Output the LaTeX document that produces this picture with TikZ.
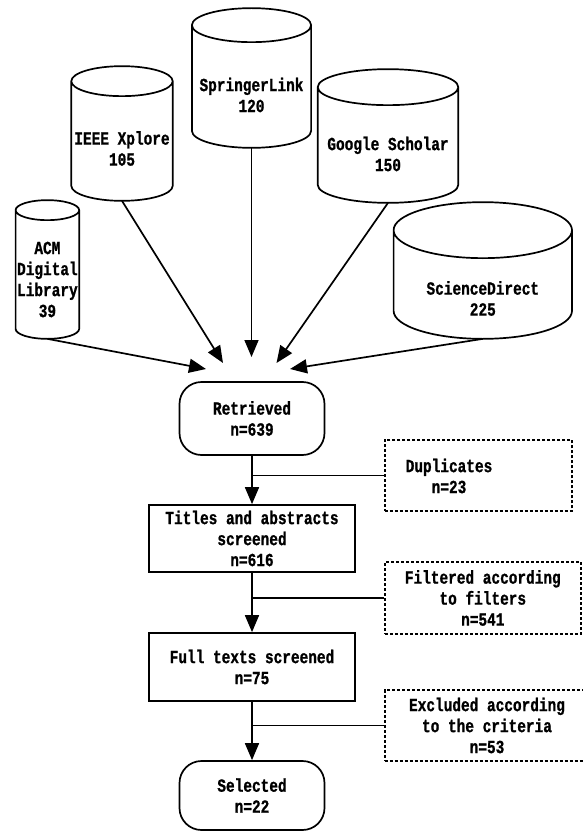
\documentclass[tikz,border=0pt]{standalone}
\usepackage{fontspec}
\newfontfamily\flowfont[FakeStretch=0.78, BoldFeatures={FakeBold=1}]{Liberation Mono}
\usetikzlibrary{arrows.meta, positioning}
\tikzset{
  >={Triangle[length=17pt,width=14pt]},
  every node/.style={font=\fontsize{18.5}{21}\selectfont\flowfont\bfseries},
  dbase/.style={rectangle, inner sep=0pt, align=center},
  flowend/.style={draw, rounded corners=22pt, minimum width=145pt, align=center},
  stepbox/.style={draw, minimum width=206pt, align=center},
  sidebox/.style={draw, dash pattern=on 3pt off 2pt, align=center},
}
% cylinder outline round a dbase node: name, x radius, y radius
\newcommand\dbshape[3]{%
  \draw ([xshift=-#2, yshift=#3]#1.north)
    arc[start angle=180, end angle=540, x radius=#2, y radius=#3]
    -- ([xshift=-#2, yshift=#3]#1.south)
    arc[start angle=180, end angle=360, x radius=#2, y radius=#3]
    -- ([xshift=#2, yshift=#3]#1.north);}

\begin{document}
\begin{tikzpicture}[x=1pt, y=-1pt, line width=1.7pt]
  \useasboundingbox (0,0) rectangle (583,832);
  \clip (0,0) rectangle (583,832);

  % sources
  \node[dbase, minimum height=117pt] (acm)  at (47.4,279.5) {ACM\\Digital\\Library\\39};
  \node[dbase, minimum height=103pt] (ieee) at (122,148.5)  {IEEE Xplore\\105};
  \node[dbase, minimum height=104pt] (sl)   at (251.5,95)   {SpringerLink\\120};
  \node[dbase, minimum height=96pt]  (gs)   at (388,154)    {Google Scholar\\150};
  \node[dbase, minimum height=79pt]  (sd)   at (482.8,298.5){ScienceDirect\\225};
  \dbshape{acm}{31.8pt}{10pt}
  \dbshape{ieee}{50.7pt}{15pt}
  \dbshape{sl}{59.6pt}{17pt}
  \dbshape{gs}{70.3pt}{18pt}
  \dbshape{sd}{89.2pt}{28pt}

  % flow
  \node[flowend, minimum height=73pt] (ret)  at (252,418.5) {Retrieved\\n=639};
  \node[stepbox, minimum height=67pt] (tas)  at (252,538.5) {Titles and abstracts\\screened\\n=616};
  \node[stepbox, minimum height=68pt] (fts)  at (252,667)   {Full texts screened\\n=75};
  \node[flowend, minimum height=69pt] (sel)  at (252,795.5) {Selected\\n=22};

  % removed records
  \node[sidebox, minimum width=187.3pt, minimum height=71pt] (dup)  at (478.3,475.5) {};
  \node[align=center] (dup-t) at (449,476) {Duplicates\\n=23};
  \node[sidebox, minimum width=196pt,   minimum height=72pt] (filt) at (482.8,598) {Filtered according\\to filters\\n=541};
  \node[sidebox, minimum width=204.6pt, minimum height=71pt] (excl) at (487,725.5) {Excluded according\\to the criteria\\n=53};

  \coordinate (t-acm)  at (206,369);
  \coordinate (t-ieee) at (223,363);
  \coordinate (t-sl)   at (251.5,357);
  \coordinate (t-gs)   at (276.5,363);
  \coordinate (t-sd)   at (290,369);

  \draw[->] (acm.south)  -- (t-acm);
  \draw[->] (ieee.south) -- (t-ieee);
  \draw[->] (sl.south)   -- (t-sl);
  \draw[->] (gs.south)   -- (t-gs);
  \draw[->] (sd.south)   -- (t-sd);

  \draw[->] (ret) -- (tas);
  \draw (dup.west) -- (dup.west -| ret.south);
  \draw[->] (tas) -- (fts);
  \draw (filt.west) -- (filt.west -| tas.south);
  \draw[->] (fts) -- (sel);
  \draw (excl.west) -- (excl.west -| fts.south);
\end{tikzpicture}
\end{document}
